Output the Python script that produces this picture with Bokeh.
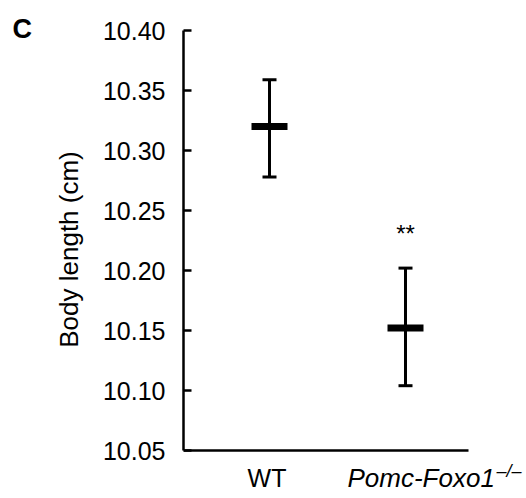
from bokeh.plotting import figure
from bokeh.layouts import row
from bokeh.models import (ColumnDataSource, Range1d, FixedTicker, PrintfTickFormatter,
                          Whisker, TeeHead)
from bokeh.core.properties import value
from bokeh.embed import file_html
from bokeh.resources import INLINE

# Body length, mean with error bars
groups = ["WT", "Pomc-Foxo1"]
genotype_sup = "\u2013/\u2013"
xpos = [1, 2]
means = [10.320, 10.152]
upper = [10.359, 10.202]
lower = [10.278, 10.104]
y_ticks = [10.05, 10.10, 10.15, 10.20, 10.25, 10.30, 10.35, 10.40]

FONT = "Liberation Sans"
HEIGHT = 498
LEFT_W = 50            # strip holding the panel letter
MAIN_W = 476
AXIS_PAD = 133         # room for the y axis inside the main figure
X_PX = 136.0           # pixels per group step
Y_PX = 1200.0          # pixels per cm
TOP_PAD = 30           # space above the 10.40 tick
FIRST_OFFSET = 86      # distance of first group from the y axis, px
AXIS_LEN = 285         # length of the baseline, px

src = ColumnDataSource(data=dict(x=xpos, mean=means, upper=upper, lower=lower))

frame_w = MAIN_W - AXIS_PAD
x0 = xpos[0] - FIRST_OFFSET / X_PX
xr = Range1d(x0, x0 + frame_w / X_PX)
y1 = y_ticks[-1] + TOP_PAD / Y_PX
yr = Range1d(y1 - HEIGHT / Y_PX, y1)


def clean(fig):
    fig.outline_line_color = None
    fig.grid.visible = False
    fig.background_fill_color = "white"
    fig.border_fill_color = "white"


# ---- main chart ----
p = figure(width=MAIN_W, height=HEIGHT, output_backend="svg", toolbar_location=None,
           x_range=xr, y_range=yr, x_axis_location=None,
           min_border_left=AXIS_PAD, min_border_right=0, min_border_top=0,
           min_border_bottom=0)
clean(p)

ya = p.yaxis[0]
ya.bounds = (y_ticks[0], y_ticks[-1])
ya.ticker = FixedTicker(ticks=y_ticks)
ya.formatter = PrintfTickFormatter(format="%.2f")
ya.major_tick_in = 8
ya.major_tick_out = 0
ya.minor_tick_line_color = None
ya.axis_line_width = 2.5
ya.major_tick_line_width = 2.5
ya.major_label_standoff = 18
ya.major_label_text_font = FONT
ya.major_label_text_font_size = "25px"
ya.major_label_text_color = "black"
ya.axis_label = "Body length (cm)"
ya.axis_label_text_font = FONT
ya.axis_label_text_font_size = "26px"
ya.axis_label_text_font_style = "normal"
ya.axis_label_text_color = "black"
ya.axis_label_standoff = 16

# baseline of the plot at the lowest tick
p.segment(x0=[x0], x1=[x0 + AXIS_LEN / X_PX], y0=[y_ticks[0]], y1=[y_ticks[0]],
          line_width=2.5, line_color="black")

# error bars and means
p.add_layout(Whisker(base="x", upper="upper", lower="lower", source=src,
                     line_width=3, line_color="black",
                     upper_head=TeeHead(size=14, line_width=3, line_color="black"),
                     lower_head=TeeHead(size=14, line_width=3, line_color="black")))
p.rect(x="x", y="mean", width=36, height=7, width_units="screen", height_units="screen",
       source=src, fill_color="black", line_color=None)

# significance mark above the knockout group
p.text(x=[xpos[1]], y=[upper[1]], text=["**"], y_offset=-35,
       text_align="center", text_baseline="alphabetic",
       text_font=value(FONT), text_font_size="24px", text_color="black")

# group names under the baseline
p.text(x=[xpos[0]], y=[y_ticks[0]], text=[groups[0]], x_offset=-2.5, y_offset=27,
       text_align="center", text_baseline="alphabetic",
       text_font=value(FONT), text_font_size="25px", text_color="black")
p.text(x=[xpos[1]], y=[y_ticks[0]], text=[groups[1]], x_offset=-58, y_offset=27,
       text_align="left", text_baseline="alphabetic", text_font_style="italic",
       text_font=value(FONT), text_font_size="26px", text_color="black")
p.text(x=[xpos[1]], y=[y_ticks[0]], text=[genotype_sup], x_offset=91, y_offset=20,
       text_align="left", text_baseline="alphabetic", text_font_style="italic",
       text_font=value(FONT), text_font_size="18px", text_color="black")

# ---- panel letter ----
let = figure(width=LEFT_W, height=HEIGHT, output_backend="svg",
             toolbar_location=None, x_range=Range1d(0, LEFT_W),
             y_range=Range1d(HEIGHT, 0), x_axis_type=None, y_axis_type=None,
             min_border=0)
clean(let)
let.text(x=[12], y=[28], text=["C"], text_align="left", text_baseline="alphabetic",
         text_font=value(FONT), text_font_size="27px", text_font_style="bold",
         text_color="black")

layout = row(let, p, spacing=0)
open("out.html", "w").write(file_html(layout, INLINE))
